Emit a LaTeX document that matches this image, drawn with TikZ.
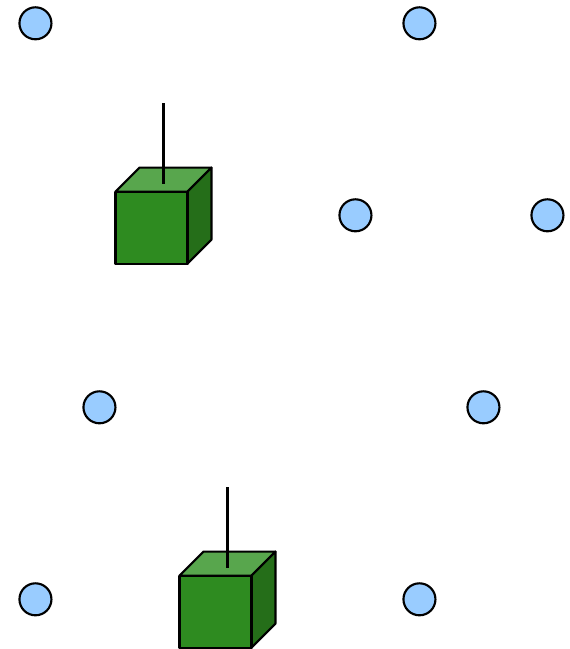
\documentclass[tikz,border=0pt]{standalone}
\definecolor{dotfill}{HTML}{99CCFF}
\definecolor{cubefront}{HTML}{2E8B20}
\definecolor{cubetop}{HTML}{58A64D}
\definecolor{cubeside}{HTML}{256E19}
\tikzset{
  dot/.style={circle,draw=black,fill=dotfill,line width=1.6pt,minimum size=24pt,inner sep=0pt,outer sep=0pt},
  edge/.style={draw=black,line width=1.6pt,line join=round},
  stem/.style={draw=black,line width=1.6pt},
  pics/cube/.style={code={
    \coordinate (-a) at (0,0);
    \coordinate (-b) at (72,0);
    \coordinate (-c) at (72,72);
    \coordinate (-d) at (0,72);
    \coordinate (-e) at (24,-24);
    \coordinate (-f) at (96,-24);
    \coordinate (-g) at (96,48);
    \coordinate (-s) at (48,-88.5);
    \coordinate (-t) at (48,-8);
    \path[edge,fill=cubetop] (-a) -- (-e) -- (-f) -- (-b) -- cycle;
    \path[edge,fill=cubeside] (-b) -- (-f) -- (-g) -- (-c) -- cycle;
    \path[edge,fill=cubefront] (-a) -- (-b) -- (-c) -- (-d) -- cycle;
    \path[stem] (-s) -- (-t);
  }}
}
\begin{document}
\begin{tikzpicture}[x=0.75pt,y=-0.75pt]
\useasboundingbox (0,0) rectangle (570,649);
\node[dot] (n1) at (35.45,23.3) {};
\node[dot] (n2) at (419.45,23.3) {};
\node[dot] (n3) at (355.45,215.3) {};
\node[dot] (n4) at (547.45,215.3) {};
\node[dot] (n5) at (99.45,407.3) {};
\node[dot] (n6) at (483.45,407.3) {};
\node[dot] (n7) at (35.45,599.3) {};
\node[dot] (n8) at (419.45,599.3) {};
\pic (c1) at (115.45,191.6) {cube};
\pic (c2) at (179.45,575.6) {cube};
\end{tikzpicture}
\end{document}
